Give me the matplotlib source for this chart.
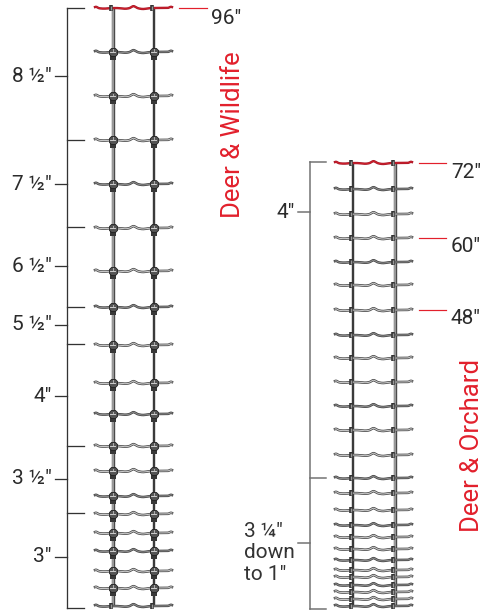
import numpy as np
import matplotlib
matplotlib.use("Agg")
import matplotlib.pyplot as plt

W, H = 485, 613
# wire heights above the ground, inches
wildlife_heights = [0, 2.89, 5.62, 8.83, 11.72, 14.77, 17.66, 21.67, 25.69, 30.82, 35.80,
                    41.90, 48.0, 53.78, 60.68, 67.75, 74.81, 81.87, 88.94, 96]
orchard_heights = [0, 1.14, 2.28, 3.41, 4.71, 5.85, 7.48, 9.26, 11.21, 13.16, 15.6, 18.36, 20.8,
                   24.54, 28.6, 32.5, 36.4, 40.3, 44.04, 48.1, 52.17, 55.9, 59.8, 63.7, 67.77, 72]

wildlife_labels = ['8 ½″', '7 ½″', '6 ½″', '5 ½″', '4″', '3 ½″', '3″']
wildlife_label_y = [76, 184, 266, 325, 396, 479, 557]
wildlife_ticks = [8, 140, 227, 307, 344, 446, 513, 608]
orchard_ticks = [162, 478, 609]
height_labels = ['72″', '60″', '48″']
height_y = [163, 238, 310]

RED = '#e2202c'
FONT = ['Roboto', 'Liberation Sans', 'DejaVu Sans']
PX = 0.72

fig = plt.figure(figsize=(W / 100, H / 100), dpi=100)
fig.patch.set_facecolor('white')

def make_ax(scale):
    ax = fig.add_axes([0, 0, 1, 1])
    ax.set_xlim(0, W)
    ax.set_ylim(-(H - 606) / scale, 606 / scale)
    ax.axis('off')
    ax.patch.set_alpha(0)
    return ax

scale_l = 598 / 96
scale_r = 443 / 72
ax_l = make_ax(scale_l)
ax_r = make_ax(scale_r)
ov = fig.add_axes([0, 0, 1, 1])
ov.set_xlim(0, W)
ov.set_ylim(H, 0)
ov.axis('off')
ov.patch.set_alpha(0)

def wire_shape(x0):
    t = np.linspace(-18, 59, 200)
    y = (-1.3 * np.exp(-((t + 17) / 2.0) ** 2)
         + 0.6 * np.exp(-((t + 9) / 6.0) ** 2)
         + 0.7 * np.exp(-((t - 12) / 5.0) ** 2)
         - 1.9 * np.exp(-((t - 20.5) / 2.8) ** 2)
         + 1.0 * np.exp(-((t - 30) / 5.0) ** 2)
         - 1.2 * np.exp(-((t - 58) / 2.0) ** 2))
    return x0 + t, y

def fence(ax, heights, scale, post_a, post_b, big_knots, thick_first):
    top = max(heights)
    for i, (px, thick) in enumerate(((post_a, thick_first), (post_b, not thick_first))):
        if thick:
            ax.plot([px, px], [0, top], color='#4a4a4a', lw=3.4 * PX, solid_capstyle='butt', zorder=2)
            ax.plot([px, px], [0, top], color='#a0a0a0', lw=1.8 * PX, solid_capstyle='butt', zorder=2.1)
        else:
            ax.plot([px, px], [0, top], color='#3a3a3a', lw=2.4 * PX, solid_capstyle='butt', zorder=2)
    for i, h in enumerate(heights):
        xs, dy = wire_shape(post_a)
        ys = h - dy / scale
        is_top = h == top
        if is_top:
            ax.plot(xs, ys, color='#a81828', lw=2.4 * PX, zorder=3)
            ax.plot(xs, ys, color='#d0202c', lw=1.0 * PX, zorder=3.1)
        else:
            ax.plot(xs, ys, color='#404040', lw=2.5 * PX, zorder=3)
            ax.plot(xs, ys, color='#c8c8c8' if i % 3 else '#8a8a8a', lw=1.1 * PX, zorder=3.1)
        for px in (post_a, post_b):
            if big_knots and h not in (0, top):
                ax.plot([px, px], [h - 2 / scale, h - 8 / scale], color='#383838', lw=6 * PX,
                        solid_capstyle='butt', zorder=4.5)
                ax.plot([px], [h], marker='8', ms=9.5 * PX, mfc='#555555', mec='#222222', mew=0.6, zorder=5)
                ax.plot([px - 2.5, px + 2.5], [h, h], color='#d8d8d8', lw=0.9 * PX, zorder=6)
                ax.plot([px, px], [h + 2.5 / scale, h + 1 / scale], color='#aaaaaa', lw=1 * PX, zorder=6)
            else:
                k = px - 2
                ax.plot([k, k], [h - 3 / scale, h + 3 / scale], color='#333333', lw=3.6 * PX,
                        solid_capstyle='butt', zorder=5)
                ax.plot([k, k], [h - 2 / scale, h + 2 / scale], color='#999999', lw=1.4 * PX,
                        solid_capstyle='butt', zorder=6)

fence(ax_l, wildlife_heights, scale_l, 113, 154, True, True)
fence(ax_r, orchard_heights, scale_r, 353, 395, False, False)

# left bracket
DK = '#333333'
ov.plot([67, 67], [wildlife_ticks[0], wildlife_ticks[-1]], color=DK, lw=1.3 * PX)
for y in wildlife_ticks:
    ov.plot([67, 84], [y, y], color=DK, lw=1.3 * PX)
tf = dict(family=FONT, fontsize=15, color='#2b2b2b', va='center')
for lab, y in zip(wildlife_labels, wildlife_label_y):
    ov.plot([55, 67], [y, y], color=DK, lw=1.3 * PX)
    ov.text(52, y, lab, ha='right', **tf)

# right bracket
GR = '#707070'
ov.plot([310, 310], [orchard_ticks[0], orchard_ticks[-1]], color=GR, lw=1.5 * PX)
for y in orchard_ticks:
    ov.plot([310, 326], [y, y], color=GR, lw=1.5 * PX)
for y in (212, 543):
    ov.plot([298, 310], [y, y], color=GR, lw=1.5 * PX)
ov.text(295, 212, '4″', ha='right', **tf)
ov.text(244, 553, '3 ¼″\ndown\nto 1″', ha='left', linespacing=1.15,
        **{**tf, 'color': '#333333'})

# height callouts
ov.plot([179, 207], [8, 8], color=RED, lw=1.2 * PX)
ov.text(211, 18, '96″', ha='left', **tf)
for lab, y in zip(height_labels, height_y):
    ov.plot([419, 446], [y, y], color=RED, lw=1.2 * PX)
    ov.text(451, y + 9, lab, ha='left', **tf)

# fence names
nf = dict(family=FONT, fontsize=18.5, color=RED, rotation=90, ha='center', va='center')
ov.text(233, 135, 'Deer & Wildlife', **nf)
ov.text(472, 445, 'Deer & Orchard', **nf)

fig.savefig('out.png', dpi=100)
